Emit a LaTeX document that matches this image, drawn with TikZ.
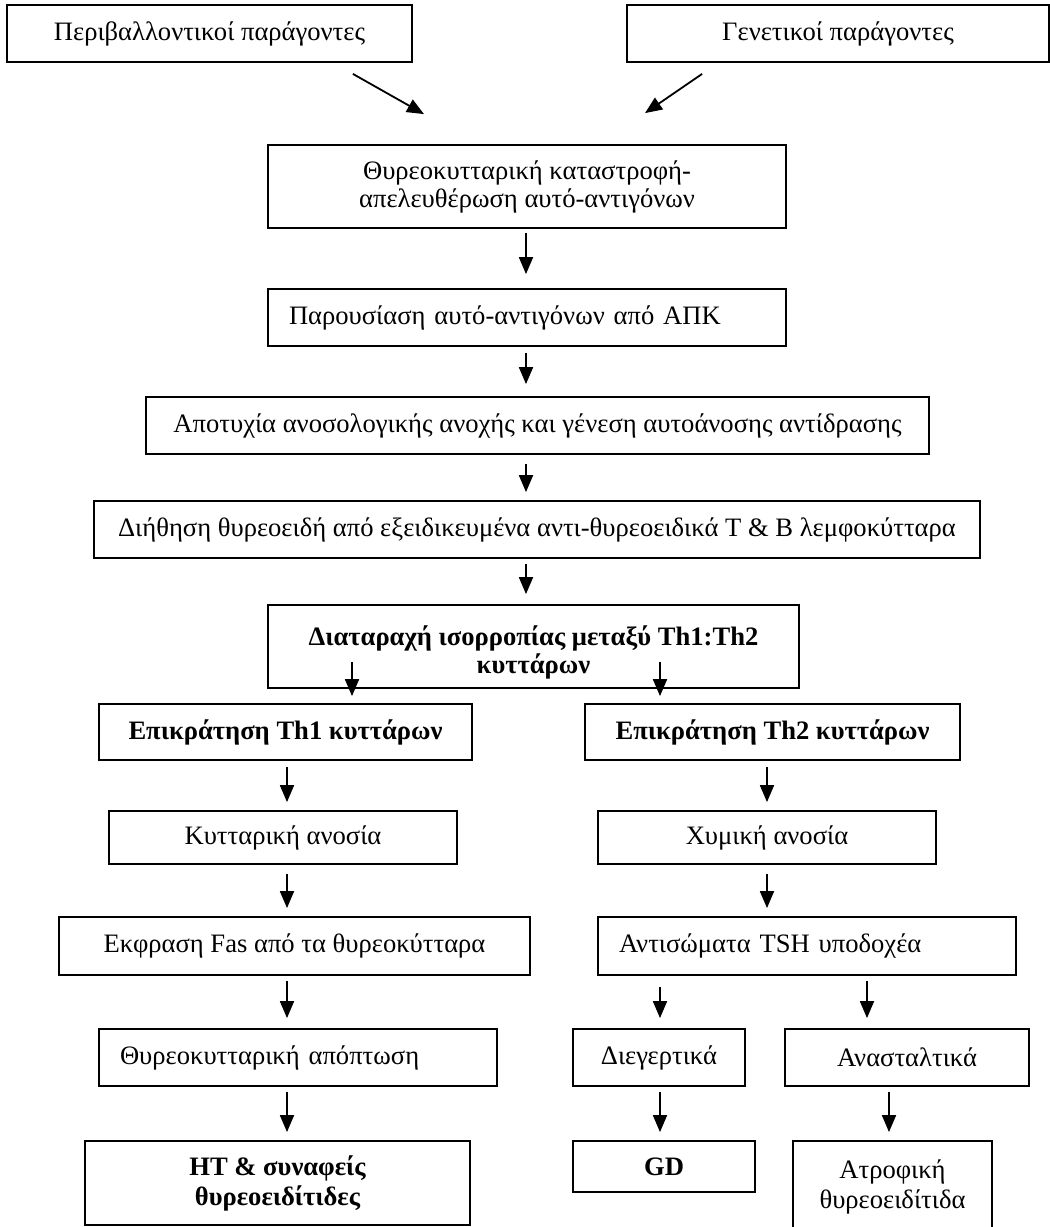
\documentclass[tikz,border=0pt]{standalone}
\usepackage{fontspec}
\setmainfont{Liberation Serif}
\usetikzlibrary{arrows.meta,calc}
\tikzset{
  stage/.style={draw=black, line width=1.8pt, align=center, inner sep=0pt},
  stageleft/.style={stage, align=left, inner xsep=21pt},
  flow/.style={line width=1.8pt, -{Triangle[length=17pt,width=14pt]}, shorten <=6pt, shorten >=10pt},
}

\begin{document}
\begin{tikzpicture}[x=1pt, y=-1pt, font=\fontsize{26.6}{28}\selectfont]
\useasboundingbox (0,0) rectangle (1050,1227);
\node[stage, minimum width=405pt, minimum height=57pt] (perib) at (209.5,33.5) {Περιβαλλοντικοί παράγοντες};
\node[stage, minimum width=422pt, minimum height=57pt] (gen) at (838,33.5) {Γενετικοί παράγοντες};
\node[stage, minimum width=518pt, minimum height=83pt] (thyro) at (527,186.5) {Θυρεοκυτταρική καταστροφή-\\απελευθέρωση αυτό-αντιγόνων};
\node[stageleft, text width=476pt, minimum height=57pt] (parous) at (527,317.5) {Παρουσίαση αυτό-αντιγόνων από ΑΠΚ};
\node[stage, minimum width=783pt, minimum height=57pt] (apot) at (537.5,425.5) {Αποτυχία ανοσολογικής ανοχής και γένεση αυτοάνοσης αντίδρασης};
\node[stage, minimum width=886pt, minimum height=57pt] (dieth) at (537,529.5) {Διήθηση θυρεοειδή από εξειδικευμένα αντι-θυρεοειδικά Τ \& Β λεμφοκύτταρα};
\node[stage, minimum width=531pt, minimum height=83pt, font=\fontsize{26.6}{28}\selectfont\bfseries] (diat) at (533.5,646.5) {\rule{0pt}{32pt}Διαταραχή ισορροπίας μεταξύ Th1:Th2\\κυττάρων};
\node[stage, minimum width=373pt, minimum height=56pt, font=\fontsize{26.6}{28}\selectfont\bfseries] (epi1) at (285.5,732) {Επικράτηση Th1 κυττάρων};
\node[stage, minimum width=375pt, minimum height=56pt, font=\fontsize{26.6}{28}\selectfont\bfseries] (epi2) at (772.5,732) {Επικράτηση Th2 κυττάρων};
\node[stage, minimum width=348pt, minimum height=53pt] (kyt) at (283,837.5) {Κυτταρική ανοσία};
\node[stage, minimum width=338pt, minimum height=53pt] (hym) at (767,837.5) {Χυμική ανοσία};
\node[stage, minimum width=471pt, minimum height=58pt] (fas) at (294.5,946) {Εκφραση Fas από τα θυρεοκύτταρα};
\node[stageleft, text width=376pt, minimum height=58pt] (anti) at (807,946) {Αντισώματα TSH υποδοχέα};
\node[stageleft, text width=356pt, minimum height=57pt] (apopt) at (298,1057.5) {Θυρεοκυτταρική απόπτωση};
\node[stage, minimum width=172pt, minimum height=57pt] (dieg) at (659,1057.5) {Διεγερτικά};
\node[stage, minimum width=244pt, minimum height=57pt] (anast) at (907,1057.5) {Ανασταλτικά};
\node[stage, minimum width=385pt, minimum height=84pt, font=\fontsize{26.6}{30}\selectfont\bfseries] (ht) at (277.5,1183) {HT \& συναφείς\\θυρεοειδίτιδες};
\node[stage, minimum width=182pt, minimum height=51pt, font=\fontsize{26.6}{28}\selectfont\bfseries] (gd) at (664,1166.5) {GD};
\node[stage, minimum width=199pt, minimum height=91pt, font=\fontsize{26.6}{30}\selectfont] (atro) at (892.5,1186.5) {Ατροφική\\θυρεοειδίτιδα};

\coordinate (cm) at (526,0);
\coordinate (dl) at (352,0);
\coordinate (dr) at (660,0);
\coordinate (cl) at (287,0);
\coordinate (cr) at (767,0);
\coordinate (sr) at (867,0);
\coordinate (ar) at (889,0);

\draw[flow, shorten <=0pt, shorten >=0pt] ($(perib.south east)+(-60,11)$) -- ($(thyro.north)+(-103,-30)$);
\draw[flow, shorten <=0pt, shorten >=0pt] ($(gen.south west)+(76,11)$) -- ($(thyro.north)+(118,-31)$);
\draw[flow, shorten <=4pt, shorten >=14pt] (thyro.south -| cm) -- (parous.north -| cm);
\draw[flow, shorten >=12pt] (parous.south -| cm) -- (apot.north -| cm);
\draw[flow, shorten <=9pt, shorten >=8pt] (apot.south -| cm) -- (dieth.north -| cm);
\draw[flow, shorten <=5pt] (dieth.south -| cm) -- (diat.north -| cm);
\draw[flow, shorten <=0pt, shorten >=7pt] ($(diat.south -| dl)+(0,-27)$) -- (epi1.north -| dl);
\draw[flow, shorten <=0pt, shorten >=7pt] ($(diat.south -| dr)+(0,-27)$) -- (epi2.north -| dr);
\draw[flow, shorten >=8pt] (epi1.south -| cl) -- (kyt.north -| cl);
\draw[flow, shorten >=8pt] (epi2.south -| cr) -- (hym.north -| cr);
\draw[flow, shorten <=9pt, shorten >=8pt] (kyt.south -| cl) -- (fas.north -| cl);
\draw[flow, shorten <=9pt, shorten >=8pt] (hym.south -| cr) -- (anti.north -| cr);
\draw[flow, shorten <=5pt] (fas.south -| cl) -- (apopt.north -| cl);
\draw[flow, shorten <=11pt] (anti.south -| dr) -- (dieg.north -| dr);
\draw[flow, shorten <=5pt] (anti.south -| sr) -- (anast.north -| sr);
\draw[flow, shorten <=5pt, shorten >=8pt] (apopt.south -| cl) -- (ht.north -| cl);
\draw[flow, shorten <=5pt, shorten >=8pt] (dieg.south -| dr) -- (gd.north -| dr);
\draw[flow, shorten <=5pt, shorten >=8pt] (anast.south -| ar) -- (atro.north -| ar);
\end{tikzpicture}
\end{document}
